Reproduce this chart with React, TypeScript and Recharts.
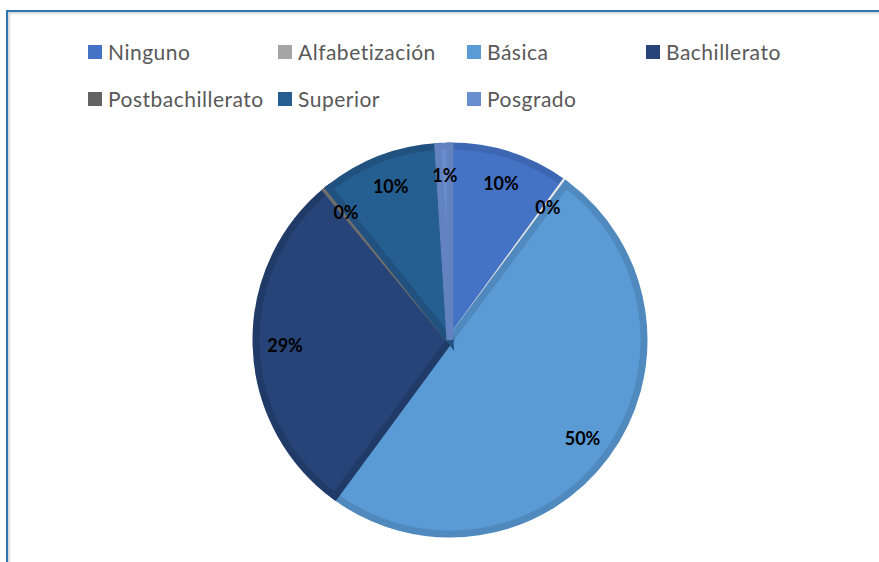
import { Legend, Pie, PieChart, Cell } from 'recharts';

const categories = ['Ninguno', 'Alfabetización', 'Básica', 'Bachillerato', 'Postbachillerato', 'Superior', 'Posgrado'];
const values = [10.0, 0.2, 49.9, 28.9, 0.3, 9.7, 1.0];
const fills = ['#4472C4', '#A5A5A5', '#5B9BD5', '#264478', '#636363', '#255E91', '#698ED0'];
const strokes = ['#3D67B2', '#E8E8E8', '#5089BE', '#213B68', '#6E6E6E', '#21527F', '#6383C0'];

const data = categories.map((name, i) => ({ name, value: values[i] }));

const RAD = Math.PI / 180;
const FONT = 'Lato, "Open Sans", sans-serif';

function renderLabel(props: any) {
  const { cx, cy, midAngle, percent } = props;
  const r = 165;
  const x = cx + r * Math.cos(-midAngle * RAD);
  const y = cy + r * Math.sin(-midAngle * RAD);
  return (
    <text x={x} y={y} textAnchor="middle" dominantBaseline="central" fontFamily={FONT} fontWeight={700} fontSize={18} fill="#000">
      {`${Math.round(percent * 100)}%`}
    </text>
  );
}

// legend columns as in the original (4 per row)
const colLeft = [88, 278, 467, 646];
const rowTop = [41, 88];

function LegendBox() {
  return (
    <div style={{ position: 'absolute', left: 0, top: 0, width: 879, height: 130 }}>
      {categories.map((name, i) => (
        <div
          key={name}
          style={{
            position: 'absolute',
            left: colLeft[i % 4],
            top: rowTop[Math.floor(i / 4)],
            display: 'flex',
            alignItems: 'center',
            fontFamily: FONT,
            fontSize: 21,
            letterSpacing: 0.5,
            color: '#595959',
            lineHeight: '22px',
            whiteSpace: 'nowrap',
          }}
        >
          <span style={{ width: 14, height: 14, background: fills[i], marginRight: 6, display: 'inline-block' }} />
          {name}
        </div>
      ))}
    </div>
  );
}

export default function App() {
  return (
    <div style={{ position: 'absolute', left: 0, top: 0, width: 879, height: 562, background: '#fff', overflow: 'hidden' }}>
      <div
        style={{
          position: 'absolute',
          left: 6,
          top: 10,
          width: 900,
          height: 600,
          borderTop: '2px solid #2E75B6',
          borderLeft: '2px solid #2E75B6',
          boxShadow: 'inset 2px 2px 2px #d9d9d9',
        }}
      />
      <PieChart
        width={879}
        height={562}
        margin={{ top: 0, right: 0, bottom: 0, left: 0 }}
        style={{ position: 'absolute', left: 0, top: 0 }}
      >
        <Legend content={() => <LegendBox />} wrapperStyle={{ position: 'absolute', left: 0, top: 0, width: 879 }} />
        <Pie
          data={data}
          dataKey="value"
          nameKey="name"
          cx={450}
          cy={340}
          outerRadius={194}
          startAngle={90}
          endAngle={-270}
          strokeWidth={7}
          label={renderLabel}
          labelLine={false}
          isAnimationActive={false}
        >
          {data.map((d, i) => (
            <Cell key={d.name} fill={fills[i]} stroke={strokes[i]} />
          ))}
        </Pie>
      </PieChart>
    </div>
  );
}
